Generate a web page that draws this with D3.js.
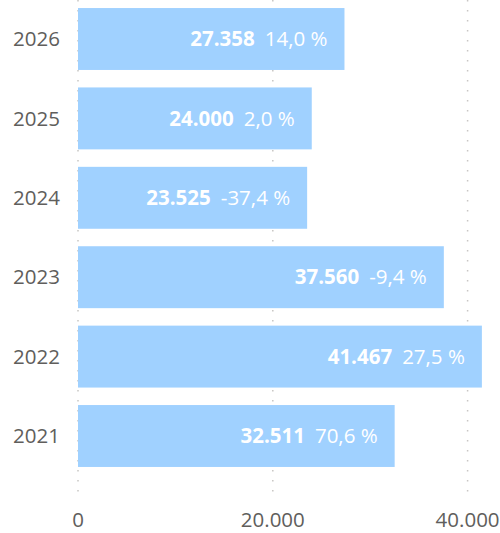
<!DOCTYPE html>
<html>
<head>
<meta charset="utf-8">
<script src="https://cdn.jsdelivr.net/npm/d3@7"></script>
<style>
  html, body { margin: 0; padding: 0; background: #fff; }
  svg { display: block; font-family: "Open Sans", "Noto Sans", sans-serif; }
</style>
</head>
<body>
<div id="chart"></div>
<script>
// Chart data
const years = ["2026", "2025", "2024", "2023", "2022", "2021"];
const totals = [27358, 24000, 23525, 37560, 41467, 32511];
const changes = [14.0, 2.0, -37.4, -9.4, 27.5, 70.6];
const xTicks = [0, 20000, 40000];

const width = 500;
const height = 533;

const locale = d3.formatLocale({
  decimal: ",",
  thousands: ".",
  grouping: [3],
  currency: ["", " €"],
  minus: "-"
});
const fmtNum = locale.format(",.0f");
const fmtPct = locale.format(".1f");

const svg = d3.select("#chart")
  .append("svg")
  .attr("width", width)
  .attr("height", height);

// Scales
const x = d3.scaleLinear()
  .domain([0, 42000])
  .range([78, 78 + 42000 * (194.8 / 20000)]);

const y = d3.scaleBand()
  .domain(years)
  .range([-0.7, 475.7])
  .paddingInner(0.22)
  .paddingOuter(0.11);

// Dotted gridlines
svg.selectAll(".grid")
  .data(xTicks)
  .enter()
  .append("line")
  .attr("class", "grid")
  .attr("x1", d => x(d))
  .attr("x2", d => x(d))
  .attr("y1", 0)
  .attr("y2", 500)
  .attr("stroke", "#c8c6c4")
  .attr("stroke-width", 1.5)
  .attr("stroke-dasharray", "1.5,8.5");

// Bars
svg.selectAll(".bar")
  .data(years)
  .enter()
  .append("rect")
  .attr("class", "bar")
  .attr("x", x(0))
  .attr("y", d => y(d))
  .attr("width", (d, i) => x(totals[i]) - x(0))
  .attr("height", y.bandwidth())
  .attr("fill", "#a0d1ff");

// Bar labels: bold value + percent change
const labels = svg.selectAll(".bar-label")
  .data(years)
  .enter()
  .append("text")
  .attr("class", "bar-label")
  .attr("x", (d, i) => x(totals[i]) - 17)
  .attr("y", d => y(d) + y.bandwidth() / 2)
  .attr("dy", "0.35em")
  .attr("text-anchor", "end")
  .attr("font-size", "20.5px")
  .attr("fill", "#fff");

labels.append("tspan")
  .attr("font-weight", "bold")
  .text((d, i) => fmtNum(totals[i]));

labels.append("tspan")
  .attr("dx", 10)
  .text((d, i) => fmtPct(changes[i]) + " %");

// Y axis labels (years)
svg.selectAll(".year")
  .data(years)
  .enter()
  .append("text")
  .attr("class", "year")
  .attr("x", 60)
  .attr("y", d => y(d) + y.bandwidth() / 2)
  .attr("dy", "0.35em")
  .attr("text-anchor", "end")
  .attr("font-size", "20.5px")
  .attr("fill", "#605e5c")
  .text(d => d);

// X axis labels
svg.selectAll(".xlabel")
  .data(xTicks)
  .enter()
  .append("text")
  .attr("class", "xlabel")
  .attr("x", d => x(d))
  .attr("y", 527)
  .attr("text-anchor", "middle")
  .attr("font-size", "20.5px")
  .attr("fill", "#605e5c")
  .text(d => fmtNum(d));
</script>
</body>
</html>
